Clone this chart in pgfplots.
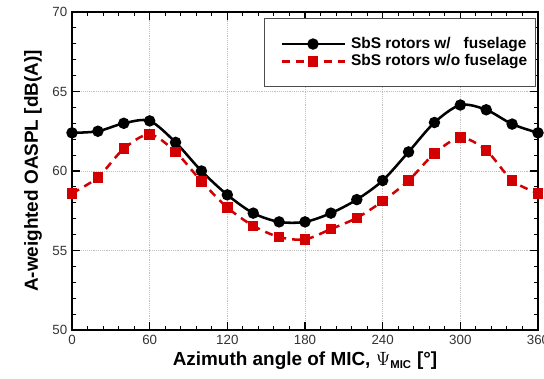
\documentclass[border=0pt]{standalone}
\usepackage{pgfplots}
\pgfplotsset{compat=1.18}
\usepackage{fontspec}
\setmainfont{Liberation Sans}
\usetikzlibrary{calc}
\definecolor{myred}{RGB}{210,0,0}
\begin{document}
\begin{tikzpicture}
\begin{axis}[
  name=ax,
  scale only axis,
  width=349.5pt, height=238.5pt,
  xmin=0, xmax=360, ymin=50, ymax=70,
  xtick={0,60,...,360}, ytick={50,55,...,70},
  minor x tick num=4, minor y tick num=4,
  tick align=inside,
  major tick length=6pt, minor tick length=3pt,
  every tick/.style={black, line width=0.8pt},
  axis line style={black, line width=1.1pt},
  grid=major,
  major grid style={gray!50, densely dotted, line width=0.5pt},
  tick label style={font=\fontsize{10}{11}\selectfont, text=black!80},
  /pgf/number format/assume math mode=true,
  xlabel={\bfseries Azimuth angle of MIC, $\Psi$\textsubscript{\fontsize{8.5}{9}\selectfont\bfseries MIC} [°]},
  ylabel={\bfseries A-weighted OASPL [dB(A)]},
  label style={font=\fontsize{14.2}{16}\selectfont},
  xlabel style={yshift=1pt},
  ylabel style={yshift=1pt},
  legend cell align=left,
  legend style={at={(0.995,0.98)}, anchor=north east,
    draw=black!70, line width=0.6pt, fill=white,
    font=\fontsize{11.6}{14}\selectfont\bfseries,
    inner xsep=4pt, inner ysep=12pt, row sep=-1pt},
  legend image code/.code={\path (0cm,0cm) (2.0cm,0cm); \draw[mark repeat=2,mark phase=2,#1,line width=1.9pt] plot coordinates {(0.27cm,0cm) (1.1cm,0cm) (1.93cm,0cm)};},
]
\addplot[black, line width=1.9pt, smooth, tension=0.5, mark=*, mark size=3.3pt, mark options={solid, fill=black}]
coordinates {
(0,62.4) (20,62.5) (40,63.0) (60,63.15) (80,61.8) (100,60.0) (120,58.5) (140,57.35) (160,56.8) (180,56.8)
(200,57.35) (220,58.2) (240,59.4) (260,61.2) (280,63.05) (300,64.15) (320,63.85) (340,62.95) (360,62.4)
};
\addlegendentry{SbS rotors w/\ \ \ fuselage}
\addplot[myred, line width=1.9pt, dash pattern=on 6pt off 4.5pt, smooth, tension=0.5, mark=square*, mark size=3pt, mark options={solid, fill=myred}]
coordinates {
(0,58.6) (20,59.6) (40,61.4) (60,62.3) (80,61.2) (100,59.35) (120,57.7) (140,56.55) (160,55.85) (180,55.7)
(200,56.35) (220,57.05) (240,58.1) (260,59.4) (280,61.1) (300,62.1) (320,61.3) (340,59.4) (360,58.6)
};
\addlegendentry{SbS rotors w/o fuselage}
\end{axis}
\pgfresetboundingbox
\path[use as bounding box] ($(ax.south west)+(-54pt,-36pt)$) rectangle ($(ax.north east)+(4.5pt,9pt)$);
\end{tikzpicture}
\end{document}
